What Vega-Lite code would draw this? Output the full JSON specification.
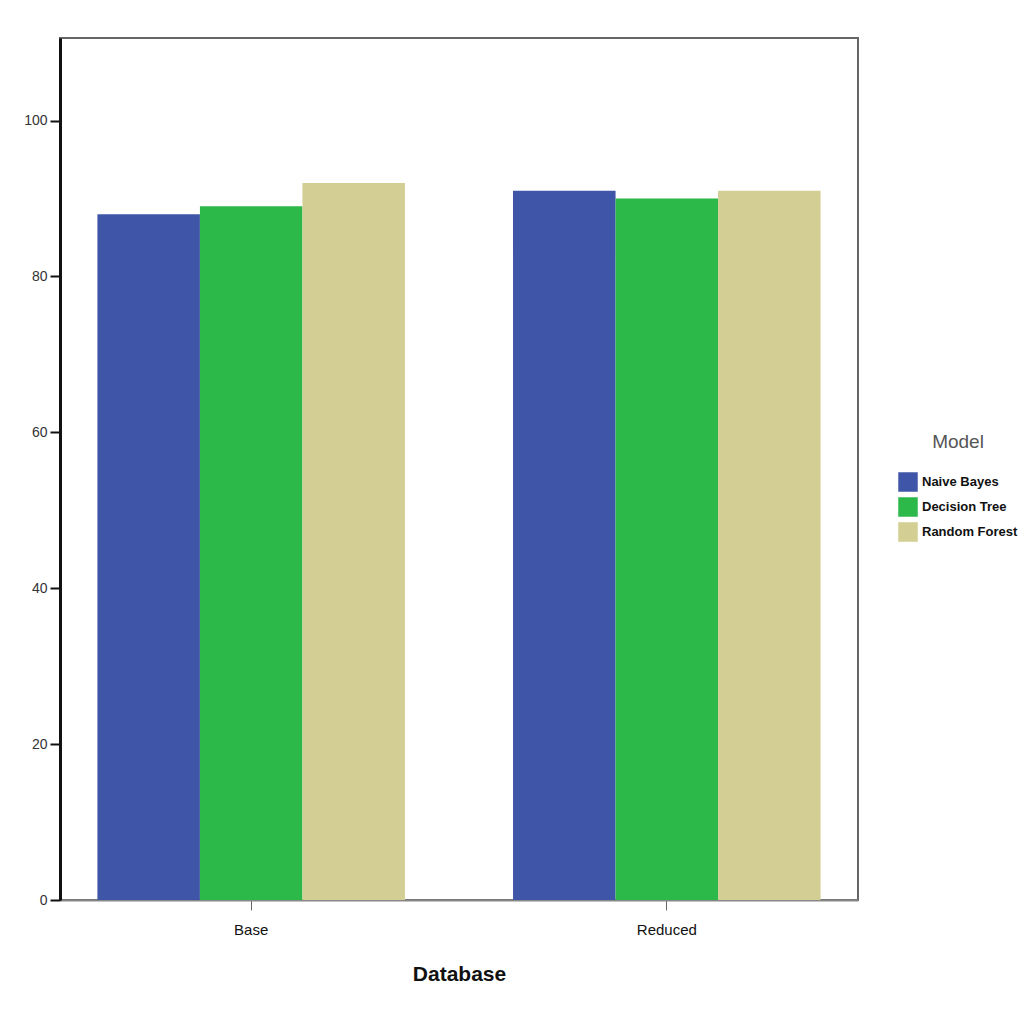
{
  "$schema": "https://vega.github.io/schema/vega-lite/v6.json",
  "width": 798,
  "height": 862,
  "autosize": {"type": "none"},
  "padding": {"left": 60, "top": 38, "right": 166, "bottom": 124},
  "background": "white",
  "config": {
    "view": {"stroke": "#666666", "strokeWidth": 2},
    "font": "Liberation Sans"
  },
  "data": {
    "values": [
      {"Database": "Base", "Model": "Naive Bayes", "value": 88},
      {"Database": "Base", "Model": "Decision Tree", "value": 89},
      {"Database": "Base", "Model": "Random Forest", "value": 92},
      {"Database": "Reduced", "Model": "Naive Bayes", "value": 91},
      {"Database": "Reduced", "Model": "Decision Tree", "value": 90},
      {"Database": "Reduced", "Model": "Random Forest", "value": 91}
    ]
  },
  "mark": {"type": "bar"},
  "encoding": {
    "x": {
      "field": "Database",
      "type": "nominal",
      "scale": {"paddingInner": 0.26, "paddingOuter": 0.09},
      "axis": {
        "title": "Database",
        "titleFontSize": 21,
        "titleFontWeight": "bold",
        "titleColor": "#111111",
        "titlePadding": 26,
        "labelAngle": 0,
        "labelFontSize": 15,
        "labelColor": "#111111",
        "labelPadding": 12,
        "tickColor": "#666666",
        "tickSize": 10,
        "domainColor": "#888888",
        "domainWidth": 2
      }
    },
    "xOffset": {
      "field": "Model",
      "type": "nominal",
      "sort": ["Naive Bayes", "Decision Tree", "Random Forest"],
      "scale": {"paddingInner": 0, "paddingOuter": 0}
    },
    "y": {
      "field": "value",
      "type": "quantitative",
      "scale": {"domain": [0, 110.6], "nice": false},
      "axis": {
        "title": null,
        "values": [0, 20, 40, 60, 80, 100],
        "grid": false,
        "labelFontSize": 14,
        "labelColor": "#333333",
        "tickColor": "#111111",
        "tickSize": 10,
        "tickWidth": 2,
        "labelPadding": 3,
        "domainColor": "#111111",
        "domainWidth": 3
      }
    },
    "color": {
      "field": "Model",
      "type": "nominal",
      "sort": ["Naive Bayes", "Decision Tree", "Random Forest"],
      "scale": {
        "domain": ["Naive Bayes", "Decision Tree", "Random Forest"],
        "range": ["#3F56A8", "#2DB84A", "#D3CE94"]
      },
      "legend": {
        "orient": "none",
        "legendX": 838,
        "legendY": 395,
        "title": "Model",
        "titleFontSize": 19,
        "titleFontWeight": "normal",
        "titleColor": "#555555",
        "titlePadding": 20,
        "titleAnchor": "middle",
        "labelFontSize": 13,
        "labelFontWeight": "bold",
        "labelColor": "#111111",
        "labelLimit": 300,
        "symbolType": "square",
        "symbolSize": 380,
        "symbolStrokeWidth": 0,
        "rowPadding": 5
      }
    }
  }
}
